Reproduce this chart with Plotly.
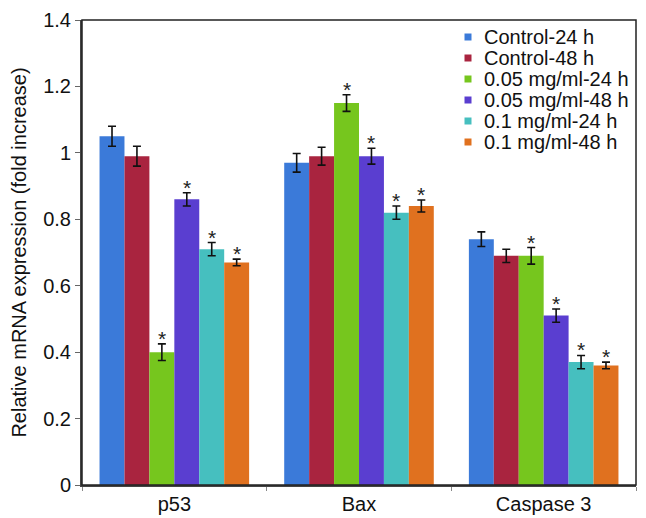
import plotly.graph_objects as go

categories = ["p53", "Bax", "Caspase 3"]
series_names = ["Control-24 h", "Control-48 h", "0.05 mg/ml-24 h",
                "0.05 mg/ml-48 h", "0.1 mg/ml-24 h", "0.1 mg/ml-48 h"]
colors = ["#3b7ad9", "#a9243f", "#76c61e", "#5a3ed0", "#46bfbf", "#e0711f"]

control_24 = [1.05, 0.97, 0.74]
control_48 = [0.99, 0.99, 0.69]
low_24 = [0.40, 1.15, 0.69]
low_48 = [0.86, 0.99, 0.51]
high_24 = [0.71, 0.82, 0.37]
high_48 = [0.67, 0.84, 0.36]

err_control_24 = [0.03, 0.028, 0.022]
err_control_48 = [0.03, 0.027, 0.02]
err_low_24 = [0.025, 0.025, 0.025]
err_low_48 = [0.02, 0.024, 0.02]
err_high_24 = [0.02, 0.02, 0.02]
err_high_48 = [0.01, 0.018, 0.01]

sig_control_24 = [False, False, False]
sig_control_48 = [False, False, False]
sig_low_24 = [True, True, True]
sig_low_48 = [True, True, True]
sig_high_24 = [True, True, True]
sig_high_48 = [True, True, True]

values = [control_24, control_48, low_24, low_48, high_24, high_48]
errors = [err_control_24, err_control_48, err_low_24, err_low_48, err_high_24, err_high_48]
sigs = [sig_control_24, sig_control_48, sig_low_24, sig_low_48, sig_high_24, sig_high_48]

FONT = "Liberation Sans, Arial, sans-serif"
# page body has an 8px default margin, so the figure is made 8px smaller
W, H = 638, 510
ML, MR, MT, MB = 74, 10, 12, 33
PW, PH = W - ML - MR, H - MT - MB
OFF = 8
PX0, PY0 = OFF + ML, OFF + MT  # plot-area origin on screen

fig = go.Figure()
n = len(series_names)
for i in range(n):
    fig.add_trace(go.Bar(
        x=categories, y=values[i], name=series_names[i],
        marker=dict(color=colors[i], line=dict(width=0)),
        error_y=dict(type="data", array=errors[i], color="#111111",
                     thickness=1.6, width=4),
        showlegend=False,
    ))

# asterisks above significant bars
bargap = 0.19
group_w = 1 - bargap
bar_w = group_w / n
annotations = []
for i in range(n):
    for j, cat in enumerate(categories):
        if sigs[i][j]:
            xpos = j - group_w / 2 + bar_w * (i + 0.5)
            annotations.append(dict(
                x=xpos, y=values[i][j] + errors[i][j], xref="x", yref="y",
                text="*", showarrow=False, yanchor="bottom", yshift=-8,
                font=dict(size=21, color="#222222", family=FONT)))

# legend drawn as compact list (tight row spacing like the original)
shapes = [dict(type="rect", xref="paper", yref="paper", x0=0, x1=1, y0=0, y1=1,
               line=dict(color="#222222", width=1.5), fillcolor="rgba(0,0,0,0)", layer="above")]
leg_text_x = (482 - PX0) / PW
leg_mark_x = (468 - PX0) / PW
row_step = 21
first_row = 37
half = 3.5
for i, name in enumerate(series_names):
    yc = 1 - (first_row + i * row_step - PY0) / PH
    annotations.append(dict(
        x=leg_text_x, y=yc, xref="paper", yref="paper", text=name,
        showarrow=False, xanchor="left", yanchor="middle",
        font=dict(size=20, color="#111111", family=FONT)))
    shapes.append(dict(
        type="rect", xref="paper", yref="paper",
        x0=leg_mark_x - half / PW, x1=leg_mark_x + half / PW,
        y0=yc - half / PH, y1=yc + half / PH,
        fillcolor=colors[i], line=dict(width=0)))

fig.update_layout(
    width=W, height=H,
    margin=dict(l=ML, r=MR, t=MT, b=MB),
    paper_bgcolor="white", plot_bgcolor="white",
    barmode="group", bargap=bargap, bargroupgap=0,
    font=dict(family=FONT, size=20, color="#111111"),
    showlegend=False,
    annotations=annotations,
    shapes=shapes,
)
fig.update_yaxes(range=[0, 1.4], dtick=0.2, showgrid=False, zeroline=False,
                 showline=True, linecolor="#444444", linewidth=2,
                 ticks="outside", ticklen=5, tickcolor="#666666",
                 ticklabeloverflow="allow",
                 title=dict(text="Relative mRNA expression (fold increase)",
                            font=dict(size=20), standoff=18),
                 tickfont=dict(size=20), automargin=False)
fig.update_xaxes(showgrid=False, showline=True, linecolor="#444444", linewidth=2,
                 ticks="outside", ticklen=4, tickcolor="#888888",
                 tickson="boundaries", tickfont=dict(size=20), automargin=False)

fig.write_html("out.html")
